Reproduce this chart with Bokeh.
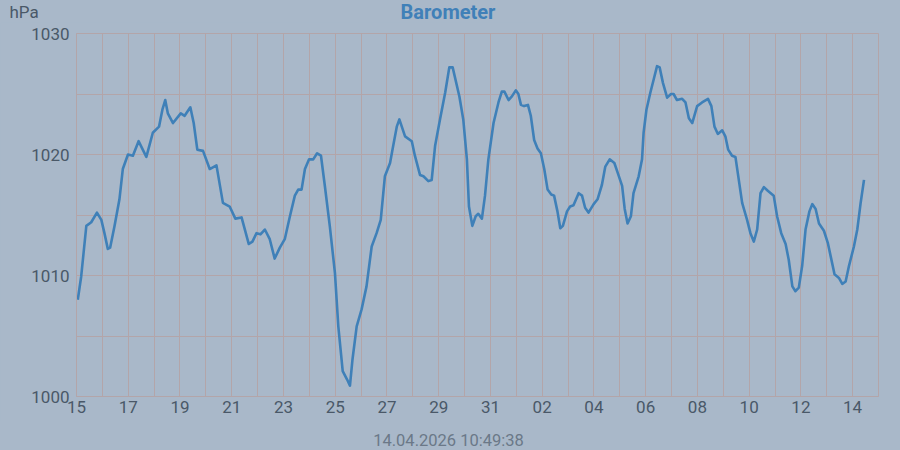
from bokeh.plotting import figure
from bokeh.layouts import column
from bokeh.models import FixedTicker, Range1d, Label
from bokeh.embed import file_html
from bokeh.resources import INLINE

# days since 15.03.2026 00:00
days = [0.05, 0.18, 0.38, 0.57, 0.79, 0.96, 1.08, 1.21, 1.30, 1.47, 1.66, 1.79, 1.99, 2.18, 2.40,
        2.70, 2.95, 3.19, 3.32, 3.43, 3.53, 3.73, 4.03, 4.18, 4.40, 4.53, 4.67, 4.89, 5.15, 5.41,
        5.66, 5.92, 6.14, 6.38, 6.66, 6.80, 6.96, 7.11, 7.28, 7.47, 7.66, 7.86, 8.05, 8.25, 8.44,
        8.57, 8.70, 8.83, 8.99, 9.15, 9.30, 9.45, 9.60, 9.79, 9.99, 10.12, 10.29, 10.46, 10.57,
        10.67, 10.83, 11.02, 11.21, 11.41, 11.60, 11.76, 11.92, 12.12, 12.24, 12.38, 12.48, 12.70,
        12.96, 13.08, 13.28, 13.41, 13.60, 13.73, 13.86, 14.05, 14.25, 14.41, 14.54, 14.80, 14.95,
        15.09, 15.17, 15.30, 15.43, 15.53, 15.67, 15.79, 15.92, 16.12, 16.31, 16.44, 16.54, 16.70,
        16.83, 16.98, 17.08, 17.18, 17.30, 17.45, 17.56, 17.69, 17.82, 17.95, 18.08, 18.21, 18.35,
        18.46, 18.59, 18.70, 18.80, 18.96, 19.08, 19.21, 19.41, 19.54, 19.66, 19.79, 19.99, 20.14,
        20.31, 20.44, 20.61, 20.79, 20.95, 21.09, 21.19, 21.30, 21.43, 21.53, 21.73, 21.86, 21.92,
        22.03, 22.18, 22.31, 22.44, 22.54, 22.67, 22.83, 22.98, 23.08, 23.21, 23.41, 23.54, 23.67,
        23.80, 23.99, 24.18, 24.41, 24.54, 24.66, 24.79, 24.96, 25.08, 25.19, 25.34, 25.47, 25.60,
        25.73, 25.92, 26.05, 26.18, 26.31, 26.44, 26.57, 26.72, 26.95, 27.08, 27.24, 27.41, 27.53,
        27.67, 27.79, 27.92, 28.05, 28.18, 28.33, 28.44, 28.57, 28.70, 28.89, 29.04, 29.15, 29.30,
        29.47, 29.60, 29.73, 29.86, 30.05, 30.18, 30.31, 30.44]

pressure = [1008.0, 1009.9, 1014.1, 1014.4, 1015.2, 1014.6, 1013.5, 1012.2, 1012.3, 1014.1, 1016.3,
            1018.8, 1020.0, 1019.9, 1021.1, 1019.8, 1021.8, 1022.3, 1023.7, 1024.5, 1023.4, 1022.6,
            1023.4, 1023.2, 1023.9, 1022.6, 1020.4, 1020.3, 1018.8, 1019.1, 1016.0, 1015.7, 1014.7,
            1014.8, 1012.6, 1012.8, 1013.5, 1013.4, 1013.8, 1013.0, 1011.4, 1012.3, 1013.0, 1014.9,
            1016.6, 1017.1, 1017.1, 1018.8, 1019.6, 1019.6, 1020.1, 1019.9, 1017.4, 1014.1, 1010.2,
            1005.8, 1002.1, 1001.4, 1000.9, 1003.1, 1005.8, 1007.2, 1009.1, 1012.4, 1013.5, 1014.6,
            1018.2, 1019.3, 1020.7, 1022.3, 1022.9, 1021.5, 1021.1, 1019.9, 1018.3, 1018.2, 1017.8,
            1017.9, 1020.7, 1022.9, 1025.1, 1027.2, 1027.2, 1024.8, 1022.9, 1019.6, 1015.7, 1014.1,
            1014.9, 1015.1, 1014.7, 1016.6, 1019.6, 1022.6, 1024.3, 1025.2, 1025.2, 1024.5, 1024.8,
            1025.3, 1025.0, 1024.1, 1024.0, 1024.1, 1023.2, 1021.2, 1020.5, 1020.1, 1018.8, 1017.1,
            1016.7, 1016.6, 1015.3, 1013.9, 1014.1, 1015.3, 1015.7, 1015.8, 1016.8, 1016.6, 1015.6,
            1015.2, 1015.9, 1016.3, 1017.5, 1019.0, 1019.6, 1019.3, 1018.3, 1017.4, 1015.5, 1014.3,
            1014.9, 1016.8, 1018.2, 1019.6, 1021.8, 1023.7, 1025.1, 1026.2, 1027.3, 1027.2, 1025.9,
            1024.7, 1025.0, 1025.0, 1024.5, 1024.6, 1024.3, 1023.0, 1022.6, 1024.0, 1024.3, 1024.6,
            1024.0, 1022.3, 1021.7, 1022.0, 1021.5, 1020.4, 1019.9, 1019.8, 1017.9, 1016.0, 1014.6,
            1013.5, 1012.8, 1013.8, 1016.8, 1017.3, 1017.0, 1016.6, 1014.9, 1013.5, 1012.6, 1011.3,
            1009.1, 1008.7, 1009.0, 1010.8, 1013.8, 1015.3, 1015.9, 1015.5, 1014.3, 1013.7, 1012.7,
            1011.6, 1010.1, 1009.8, 1009.3, 1009.5, 1010.8, 1012.4, 1013.8, 1016.0, 1017.9]

x_tick_pos = [0, 2, 4, 6, 8, 10, 12, 14, 16, 18, 20, 22, 24, 26, 28, 30]
x_tick_labels = ["15", "17", "19", "21", "23", "25", "27", "29", "31", "02", "04", "06", "08",
                 "10", "12", "14"]
x_minor = [1, 3, 5, 7, 9, 11, 13, 15, 17, 19, 21, 23, 25, 27, 29, 31]
y_ticks = [1000, 1010, 1020, 1030]
y_minor = [1005, 1015, 1025]

title_text = "Barometer"
unit_text = "hPa"
stamp_text = "14.04.2026 10:49:38"

BG = "#a9b8c9"
GRID = "#b3a5a9"
LINE = "#3f80b8"
TXT = "#4a5868"
FONT = "Roboto"
W = 884


def strip(height):
    f = figure(width=W, height=height, output_backend="svg", toolbar_location=None,
               x_range=Range1d(0, W), y_range=Range1d(0, height),
               x_axis_location=None, y_axis_location=None, frame_align=False,
               min_border=0, min_border_left=0, min_border_right=0,
               min_border_top=0, min_border_bottom=0)
    f.background_fill_color = BG
    f.border_fill_color = BG
    f.outline_line_color = None
    f.grid.visible = False
    return f


# header strip
head = strip(22)
head.add_layout(Label(x=9, y=11, text=unit_text, text_font=FONT, text_font_size="17px",
                      text_color=TXT, text_align="left", text_baseline="middle"))
head.add_layout(Label(x=447.5, y=11, text=title_text, text_font=FONT, text_font_size="20px",
                      text_font_style="bold", text_color="#4080b8", text_align="center",
                      text_baseline="middle"))

# main chart
p = figure(width=W, height=398, output_backend="svg", toolbar_location=None,
           x_range=Range1d(0, 31), y_range=Range1d(1000, 1030), frame_align=False,
           min_border_left=76, min_border_right=6, min_border_top=11, min_border_bottom=24)
p.title = None
p.background_fill_color = BG
p.border_fill_color = BG
p.outline_line_color = GRID
p.outline_line_width = 1

p.xaxis.ticker = FixedTicker(ticks=x_tick_pos, minor_ticks=x_minor)
p.xaxis.major_label_overrides = {t: l for t, l in zip(x_tick_pos, x_tick_labels)}
p.yaxis.ticker = FixedTicker(ticks=y_ticks, minor_ticks=y_minor)

for ax in (p.xaxis[0], p.yaxis[0]):
    ax.axis_line_color = GRID
    ax.major_tick_line_color = None
    ax.minor_tick_line_color = None
    ax.major_tick_out = 0
    ax.major_tick_in = 0
    ax.minor_tick_out = 0
    ax.minor_tick_in = 0
    ax.major_label_text_font = FONT
    ax.major_label_text_font_size = "17px"
    ax.major_label_text_color = TXT
p.xaxis.major_label_standoff = 4
p.yaxis.major_label_standoff = 7

for g in (p.xgrid[0], p.ygrid[0]):
    g.grid_line_color = GRID
    g.grid_line_width = 1
    g.minor_grid_line_color = GRID
    g.minor_grid_line_width = 1

p.line(days, pressure, line_color=LINE, line_width=2.6, line_join="round")

# footer strip
foot = strip(28)
foot.add_layout(Label(x=448, y=8.5, text=stamp_text, text_font=FONT, text_font_size="16.5px",
                      text_color="#6b7888", text_align="center", text_baseline="middle"))

layout = column(head, p, foot, spacing=0)

html = file_html(layout, INLINE)
html = html.replace("<head>", "<head><style>html,body{background:%s;}</style>" % BG, 1)
open("out.html", "w").write(html)
